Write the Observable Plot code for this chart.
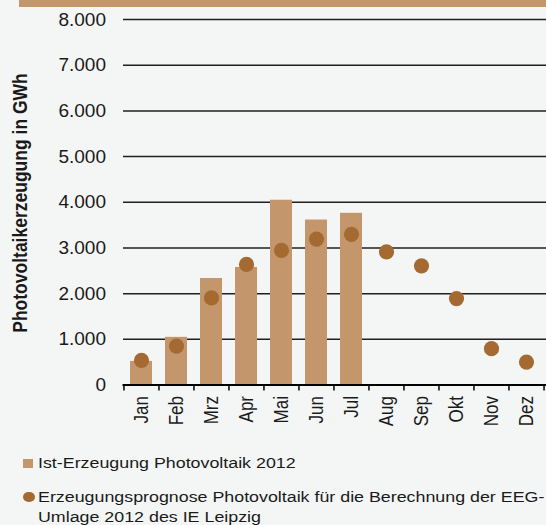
<!DOCTYPE html>
<html>
<head>
<meta charset="utf-8">
<script src="https://cdn.jsdelivr.net/npm/d3@7"></script>
<script src="https://cdn.jsdelivr.net/npm/@observablehq/plot@0.6"></script>
<style>
  html, body { margin: 0; padding: 0; background: #f4f6f5; }
  #wrap { position: relative; width: 546px; height: 525px; overflow: hidden; background: #f4f6f5;
          font-family: "Liberation Sans", Arial, sans-serif; color: #1a1a1a; }
  #topbar { position: absolute; left: 19px; top: 0; width: 527px; height: 7px; background: #c4966b; }
  #chart { position: absolute; left: 0; top: 0; }
  #ytitle { position: absolute; left: 21px; top: 203px; white-space: nowrap; font-weight: bold;
            font-size: 17.5px; line-height: 17.5px; transform: translate(-50%, -50%) rotate(-90deg) scale(1, 1.2); }
  .lg { position: absolute; left: 37.7px; font-size: 15.5px; line-height: 20.4px; white-space: nowrap;
        transform-origin: 0 0; transform: scaleX(1.15); }
  .sw { position: absolute; }
</style>
</head>
<body>
<div id="wrap">
  <div id="chart"></div>
  <div id="topbar"></div>
  <div id="ytitle">Photovoltaikerzeugung in GWh</div>
  <div class="sw" style="left:23.3px;top:459px;width:10px;height:9.3px;background:#c4966b"></div>
  <div class="lg" style="top:452.7px">Ist-Erzeugung Photovoltaik 2012</div>
  <div class="sw" style="left:23.4px;top:491.5px;width:11.5px;height:10.5px;border-radius:50%;background:#a56a32"></div>
  <div class="lg" style="top:486.7px">Erzeugungsprognose Photovoltaik für die Berechnung der EEG-<br>Umlage 2012 des IE Leipzig</div>
</div>
<script>
const months = ["Jan","Feb","Mrz","Apr","Mai","Jun","Jul","Aug","Sep","Okt","Nov","Dez"];
const istMonths = ["Jan","Feb","Mrz","Apr","Mai","Jun","Jul"];
const istValues = [516, 1043, 2331, 2573, 4044, 3611, 3758];
const prognoseValues = [538, 852, 1906, 2639, 2946, 3194, 3297, 2915, 2608, 1892, 795, 501];
const yTicks = [0, 1000, 2000, 3000, 4000, 5000, 6000, 7000, 8000];

const ist = istMonths.map((m, i) => ({month: m, value: istValues[i]}));
const prog = months.map((m, i) => ({month: m, value: prognoseValues[i]}));

const de = d3.formatLocale({decimal: ",", thousands: ".", grouping: [3], currency: ["", " €"]});
const fmt = de.format(",");

const W = 546, mL = 123, mR = 2;
const halfStep = (W - mL - mR) / months.length / 2;

const chart = Plot.plot({
  width: W,
  height: 440,
  marginTop: 19,
  marginBottom: 55.5,
  marginLeft: mL,
  marginRight: mR,
  style: {background: "transparent", fontFamily: "'Liberation Sans', Arial, sans-serif", color: "#1a1a1a", overflow: "visible"},
  x: {domain: months, paddingInner: 0.362, paddingOuter: 0.181, label: null},
  y: {domain: [0, 8000], label: null},
  marks: [
    Plot.ruleY(yTicks.slice(1), {stroke: "#1f1f1f", strokeWidth: 1.5, insetRight: -2}),
    Plot.barY(ist, {x: "month", y: "value", fill: "#c4966b"}),
    Plot.ruleY([0], {stroke: "#000", strokeWidth: 2.2, insetRight: -2, insetLeft: -0.5}),
    Plot.ruleX(months, {x: d => d, dx: -halfStep, y1: 0, y2: 0, insetBottom: -6, stroke: "#000", strokeWidth: 1.5}),
    Plot.ruleX(months.slice(-1), {x: d => d, dx: halfStep, y1: 0, y2: 0, insetBottom: -6, stroke: "#000", strokeWidth: 1.5}),
    Plot.dot(prog, {x: "month", y: "value", r: 7.6, fill: "#a56a32"}),
    Plot.axisY({ticks: yTicks, tickSize: 0, tickPadding: 17.5, tickFormat: fmt, fontSize: 19, label: null}),
    Plot.axisX({tickSize: 0, tickPadding: 11, tickRotate: -90, fontSize: 17, label: null})
  ]
});
document.getElementById("chart").appendChild(chart);

// widen the rotated month labels horizontally like the reference rendering
d3.select(chart).selectAll('g[aria-label="x-axis tick label"] text').each(function () {
  const t = this.getAttribute("transform");
  if (t) this.setAttribute("transform", t + " scale(1,1.2)");
});
d3.select(chart).selectAll('g[aria-label="x-axis tick label"]').each(function () {
  const t = this.getAttribute("transform");
  if (t && /rotate/.test(t)) this.setAttribute("transform", t + " scale(1,1.2)");
});
</script>
</body>
</html>
